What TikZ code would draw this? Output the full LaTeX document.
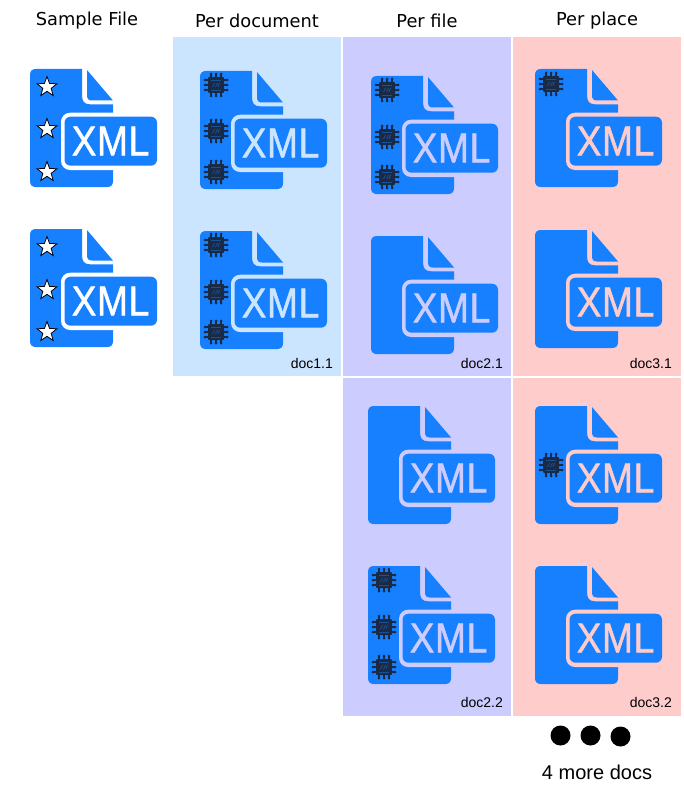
\documentclass[tikz,border=0pt]{standalone}
\usepackage{fontspec}
\setmainfont{Liberation Sans}
\newfontfamily\headfont{DejaVu Sans}
\newfontfamily\xmlfont[FakeBold=1.3,LetterSpace=2]{Liberation Sans}
\usetikzlibrary{shapes.geometric}
\definecolor{iconblue}{HTML}{1780FF}
\definecolor{chipdark}{HTML}{1B2A44}
\definecolor{docblue}{HTML}{CCE5FF}
\definecolor{filepurple}{HTML}{CCCCFF}
\definecolor{placepink}{HTML}{FFCCCC}
\tikzset{
	header/.style={font=\headfont\fontsize{17.8}{20}\selectfont,anchor=center},
	doclabel/.style={font=\fontsize{14}{16}\selectfont,anchor=base east,inner sep=0pt},
	xmltext/.style={font=\xmlfont\fontsize{42}{42}\selectfont,inner sep=0pt,transform shape,xscale=.88},
	starmark/.style={star,star points=5,star point ratio=2.4,draw=black,fill=white,line width=.8pt,minimum size=21pt,inner sep=0pt},
}
% #1 name, #2 x, #3 y, #4 colour behind the icon
\newcommand\xmlicon[4]{%
	\begin{scope}[shift={(#2,#3)}]
		\fill[iconblue] (6,0) -- (52,0) -- (52,26)
			.. controls (52,32) and (54,35.3) .. (60,35.3) -- (83,35.3) -- (83,112)
			.. controls (83,116) and (81,118) .. (77,118) -- (6,118)
			.. controls (2,118) and (0,116) .. (0,112) -- (0,6)
			.. controls (0,2) and (2,0) .. (6,0) -- cycle;
		\fill[iconblue] (57,1) -- (83,31.5) -- (62,31.5) .. controls (58.5,31.5) and (57,30) .. (57,26) -- cycle;
		\fill[#4,rounded corners=9pt] (31,43.7) rectangle (131,101);
		\fill[iconblue,rounded corners=6pt] (34.5,47.7) rectangle (127,96.7);
		\node[xmltext,text=#4] (#1) at (80.5,72) {XML};
	\end{scope}}
% #1 x, #2 y (centre of the chip)
\newcommand\chipicon[2]{%
	\begin{scope}[shift={(#1,#2)}]
		\foreach \k in {-5,0,5} {
			\draw[chipdark,line width=1.1pt] (\k,-10.5) -- (\k,10.5) (-10.5,\k) -- (10.5,\k);
			\fill[chipdark] (\k,-11) circle (1.5) (\k,11) circle (1.5) (-11,\k) circle (1.5) (11,\k) circle (1.5);
		}
		\fill[chipdark,rounded corners=1pt] (-8,-8) rectangle (8,8);
		\draw[iconblue!45!chipdark,line width=.5pt] (-5,-5.2) -- (5,-5.2) (-5,5.2) -- (5,5.2);
		\draw[iconblue!60!chipdark,line width=.6pt] (-3.5,2) -- (-1.5,-2) (-.5,2) -- (1.5,-2) (2,2) -- (3.5,-2);
	\end{scope}}
\begin{document}
\begin{tikzpicture}[x=1pt,y=-1pt]
	\useasboundingbox (0,0) rectangle (683,797);
	% panels
	\fill[docblue] (173,37) rectangle (340.5,375.5);
	\fill[filepurple] (343,37) rectangle (510.5,375.5);
	\fill[filepurple] (343,378) rectangle (510.5,715.5);
	\fill[placepink] (513,37) rectangle (680.5,375.5);
	\fill[placepink] (513,378) rectangle (680.5,715.5);
	% headers
	\node[header] (sample) at (87,20.5) {Sample File};
	\node[header] (perdoc) at (257,20.5) {Per document};
	\node[header] (perfile) at (427,20.5) {Per file};
	\node[header] (perplace) at (597,20.5) {Per place};
	% sample column
	\xmlicon{xa}{30}{69}{white}
	\xmlicon{xb}{30}{229}{white}
	\foreach \y in {87,129,172,247,290,332} {
		\node[starmark] (s\y) at (47,\y) {};
	}
	% per document
	\xmlicon{xc}{200}{71}{docblue}
	\xmlicon{xd}{200}{231}{docblue}
	\foreach \y in {85,131,172,245,292,332} {
		\chipicon{216}{\y}
	}
	% per file
	\xmlicon{xe}{371}{76}{filepurple}
	\xmlicon{xf}{371}{236}{filepurple}
	\xmlicon{xg}{368}{406}{filepurple}
	\xmlicon{xh}{368}{566}{filepurple}
	\foreach \y in {90,137,177} {
		\chipicon{387}{\y}
	}
	\foreach \y in {580,627,667} {
		\chipicon{384}{\y}
	}
	% per place
	\xmlicon{xi}{535}{69}{placepink}
	\xmlicon{xj}{535}{230}{placepink}
	\xmlicon{xk}{535}{406}{placepink}
	\xmlicon{xl}{535}{566}{placepink}
	\chipicon{551}{84}
	\chipicon{551}{465}
	% labels
	\node[doclabel] (d11) at (333,368) {doc1.1};
	\node[doclabel] (d21) at (503,368) {doc2.1};
	\node[doclabel] (d22) at (503,707) {doc2.2};
	\node[doclabel] (d31) at (672,368) {doc3.1};
	\node[doclabel] (d32) at (672,707) {doc3.2};
	% more docs
	\fill (560.5,735.5) circle (10) (590.5,735.5) circle (10) (620.5,736.5) circle (10);
	\node[font=\fontsize{20}{22}\selectfont] (more) at (597,772) {4 more docs};
\end{tikzpicture}
\end{document}
